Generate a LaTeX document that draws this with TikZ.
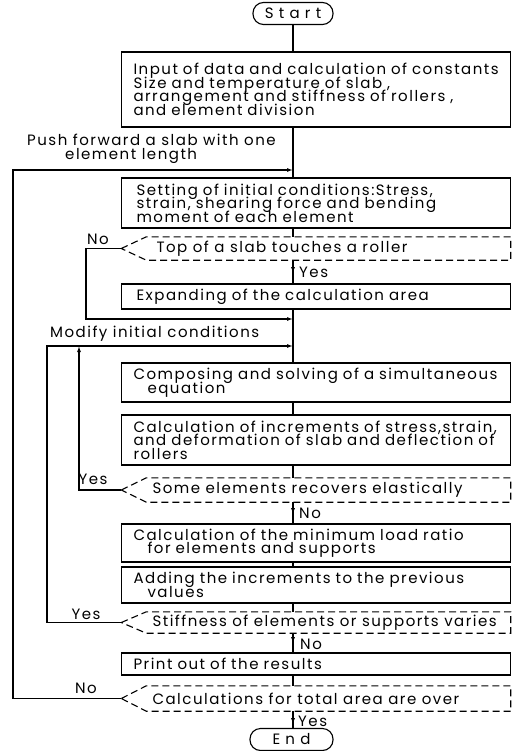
\documentclass[tikz,border=0pt]{standalone}
\usepackage{fontspec}
\setmainfont{Poppins}[LetterSpace=10]
\newfontfamily\widefont{Poppins}[LetterSpace=35]
\usetikzlibrary{arrows.meta}
\newcommand\decshape[1]{\draw[dashline] (#1.west) -- ([xshift=25pt]#1.north west) -- (#1.north east) -- (#1.south east) -- ([xshift=25pt]#1.south west) -- cycle;}
\newcommand\oneline[1]{\mbox{#1}}
\begin{document}
\begin{tikzpicture}[x=1pt,y=-1pt,
  every node/.style={font=\fontsize{15}{13.5}\selectfont, execute at begin node={\lineskiplimit=-100pt}},
  box/.style={draw, line width=1.1pt, minimum width=389pt, text width=365pt, inner xsep=12pt, inner ysep=0pt, align=left},
  dec/.style={minimum width=389pt, inner sep=0pt},
  term/.style={draw, line width=1.1pt, rounded corners=10.5pt, minimum height=22pt, inner sep=0pt, font=\widefont\fontsize{15}{15}\selectfont},
  flow/.style={line width=1.1pt},
  arr/.style={flow, -{Latex[length=6pt,width=4pt]}},
  dashline/.style={line width=1.1pt, dash pattern=on 7pt off 4pt},
  lab/.style={inner sep=0pt},
]
\useasboundingbox (0,0) rectangle (515,751);
% terminals
\node[term, minimum width=80pt] (start) at (293,13.5) {Start};
\node[term, minimum width=83pt] (end) at (291.5,739.5) {End};
% process boxes
\node[box, minimum height=75pt] (b1) at (316,89.5) {\oneline{Input of data and calculation of constants}\\\oneline{Size and temperature of slab ,}\\\oneline{arrangement and stiffness of rollers ,}\\\oneline{and element division}};
\node[box, minimum height=50pt] (b2) at (316,203) {\oneline{\hspace*{3pt}Setting of initial conditions:Stress,}\\\oneline{\hspace*{3pt}strain, shearing force and bending}\\\oneline{\hspace*{3pt}moment of each element}};
\node[box, minimum height=25pt] (b3) at (316,296.5) {\oneline{\hspace*{3pt}Expanding of the calculation area}};
\node[box, minimum height=39pt] (b4) at (316,382.5) {\oneline{Composing and solving of a simultaneous}\\\oneline{\hspace*{14pt}equation}};
\node[box, minimum height=50pt] (b5) at (316,440) {\oneline{Calculation of increments of stress,strain,}\\\oneline{and deformation of slab and deflection of}\\\oneline{rollers}};
\node[box, minimum height=38pt] (b6) at (316,543) {\oneline{Calculation of the minimum load ratio}\\\oneline{\hspace*{14pt}for elements and supports}};
\node[box, minimum height=36pt] (b7) at (316,585) {\oneline{Adding the increments to the previous}\\\oneline{\hspace*{14pt}values}};
\node[box, minimum height=22pt] (b8) at (316,664) {\oneline{Print out of the results}};
% decisions
\node[dec, minimum height=23pt] (d1) at (316,248.5) {\makebox[389pt][l]{\hspace{35pt}Top of a slab touches a roller}};
\node[dec, minimum height=24pt] (d2) at (316,490) {\makebox[389pt][l]{\hspace{31pt}Some elements recovers elastically}};
\node[dec, minimum height=21pt] (d3) at (316,622.5) {\makebox[389pt][l]{\hspace{31pt}Stiffness of elements or supports varies}};
\node[dec, minimum height=25pt] (d4) at (316,698.5) {\makebox[389pt][l]{\hspace{31pt}Calculations for total area are over}};
\decshape{d1}\decshape{d2}\decshape{d3}\decshape{d4}
% labels
\node[lab, anchor=north west, align=left] (push) at (27,134) {Push forward a slab with one\\\hspace*{38pt}element length};
\node[lab, anchor=west] (modify) at (50,334) {Modify initial conditions};
\node[lab, anchor=west] (y1) at (299,272) {Yes};
\node[lab, anchor=west] (n2) at (299,513) {No};
\node[lab, anchor=west] (n3) at (300,644) {No};
\node[lab, anchor=west] (y4) at (298,721) {Yes};
\node[lab] (n1) at (98,239) {No};
\node[lab] (y2) at (93,479) {Yes};
\node[lab] (y3) at (86,614) {Yes};
\node[lab] (n4) at (86,688) {No};
% coordinates
\coordinate (ax) at (293,0);
\coordinate (j0) at (293,170);
\coordinate (j1) at (293,319);
\coordinate (j2) at (293,346);
\coordinate (L0) at (13,0);
\coordinate (L1) at (47,0);
\coordinate (L2) at (79,0);
\coordinate (L3) at (86,0);
% main flow
\draw[flow] (start.south) -- (ax |- b1.north);
\draw[flow] (ax |- b1.south) -- (ax |- b2.north);
\draw[flow] (ax |- b2.south) -- (ax |- d1.north);
\draw[flow] (ax |- d1.south) -- (ax |- b3.north);
\draw[arr] (ax |- d1.south) -- ++(0,13);
\draw[flow] (ax |- b3.south) -- (ax |- b4.north);
\draw[flow] (ax |- b4.south) -- (ax |- b5.north);
\draw[flow] (ax |- b5.south) -- (ax |- d2.north);
\draw[flow] (ax |- d2.south) -- (ax |- b6.north);
\draw[arr] (ax |- d2.south) -- ++(0,12);
\draw[flow] (ax |- b6.south) -- (ax |- b7.north);
\draw[flow] (ax |- b7.south) -- (ax |- d3.north);
\draw[flow] (ax |- d3.south) -- (ax |- b8.north);
\draw[arr] (ax |- d3.south) -- ++(0,10);
\draw[flow] (ax |- b8.south) -- (ax |- d4.north);
\draw[flow] (ax |- d4.south) -- (ax |- end.north);
\draw[arr] (ax |- d4.south) -- ++(0,13);
% loops
\draw[arr] (d4.west) -- (L0 |- d4.west) -- (L0 |- j0) -- (j0);
\draw[arr] (d1.west) -- (L3 |- d1.west) -- (L3 |- j1) -- (j1);
\draw[arr] (d3.west) -- (L1 |- d3.west) -- (L1 |- j2) -- (j2);
\draw[arr] (d2.west) -- (L2 |- d2.west) -- (L2 |- j2);
\end{tikzpicture}
\end{document}
